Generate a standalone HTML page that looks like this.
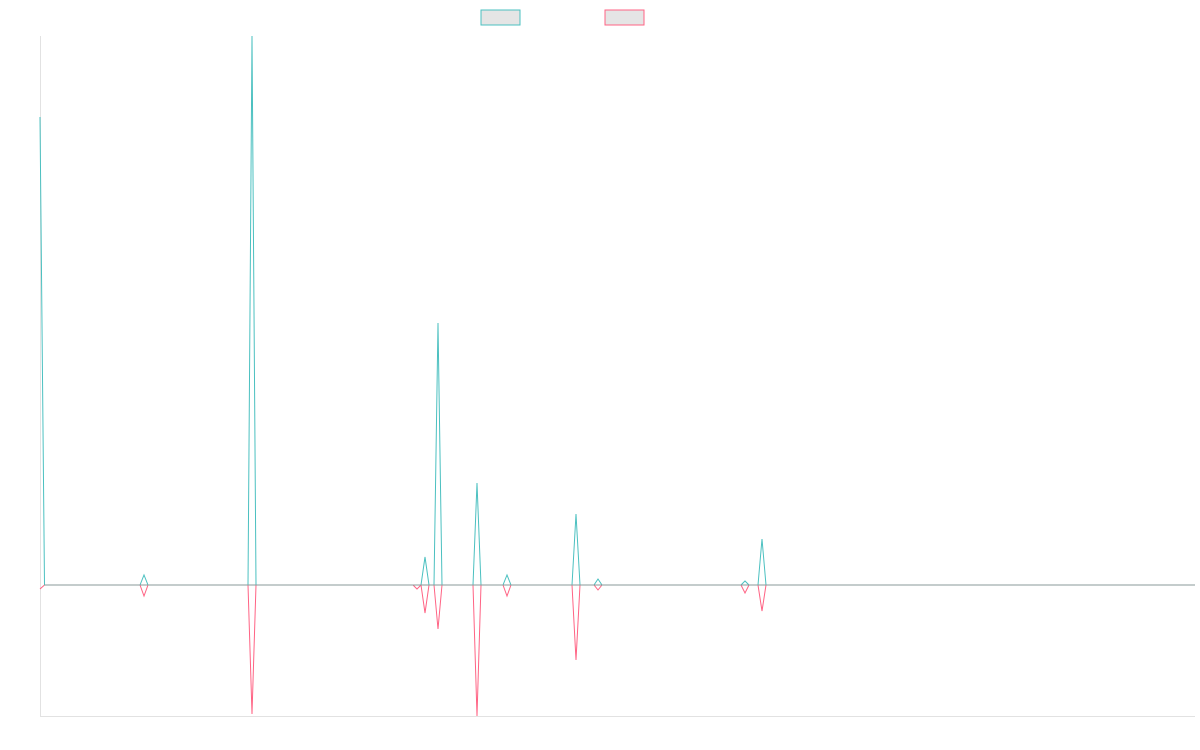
<!DOCTYPE html>
<html><head><meta charset="utf-8"><style>html,body{margin:0;background:#fff}svg{display:block}</style></head>
<body>
<svg width="1200" height="750" viewBox="0 0 1200 750" xmlns="http://www.w3.org/2000/svg">
<rect x="481" y="10" width="39" height="15" fill="#e5e5e5" stroke="#4bc0c0" stroke-width="1"/>
<rect x="605" y="10" width="39" height="15" fill="#e5e5e5" stroke="#ff6384" stroke-width="1"/>
<line x1="40.5" y1="36" x2="40.5" y2="716" stroke="#e2e2e2"/>
<line x1="40" y1="716.5" x2="1195" y2="716.5" stroke="#e2e2e2"/>
<g fill="none" stroke-width="1">
<polyline stroke="#ff6384" points="40,589 44.5,585 140,585 144,596 148,585 248,585 252,714 256,585 413,585 417,589 421,585 425,613 429,585 434,585 438,629 442,585 473,585 477,716 481,585 503,585 507,596 511,585 572,585 576,660 580,585 594,585 598,590 602,585 741,585 745,593 749,585 758,585 762,611 766,585 1195,585"/>
<polyline stroke="#4bc0c0" points="40,117 44.5,585 140,585 144,575 148,585 248,585 252,36 256,585 421,585 425,557 429,585 434,585 438,323 442,585 473,585 477,483 481,585 503,585 507,575 511,585 572,585 576,514 580,585 594,585 598,579 602,585 741,585 745,581 749,585 758,585 762,539 766,585 1195,585"/>
<line x1="44" y1="585" x2="1195" y2="585" stroke="#8a9a9a"/>
</g>
</svg>
</body></html>
